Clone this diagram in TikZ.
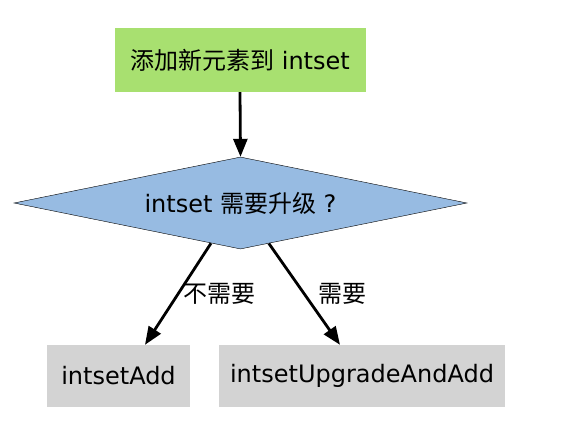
\documentclass[tikz,border=0pt]{standalone}
\usepackage{fontspec}
\setmainfont{DejaVu Sans}
\newfontfamily\cjk{Noto Sans CJK SC}
\usepackage{xcolor}
\usepackage{tikz}
\usetikzlibrary{positioning,shapes.geometric,arrows.meta,calc}

\definecolor{stepgreen}{RGB}{168,224,112}
\definecolor{testblue}{RGB}{151,187,226}
\definecolor{funcgray}{RGB}{211,211,211}

\begin{document}
\begin{tikzpicture}[
    x=1pt, y=-1pt,
    every node/.style={font=\fontsize{24}{28}\selectfont},
    box/.style={rectangle, inner sep=0pt, align=center},            % Style for the boxes
    test/.style={diamond, draw, thin, fill=testblue, inner sep=0pt,
                 minimum width=453pt, minimum height=92pt, aspect=4.92},  % Style for the test
    arr/.style={line width=2.8pt, -{Triangle[length=18pt,width=14pt]}}   % Style for the arrows
    ]

    \useasboundingbox (0,0) rectangle (576,421);

    % Start box and the test
    \node[box, fill=stepgreen, minimum width=251pt, minimum height=64pt] (start) at (240,60) {{\cjk 添加新元素到} intset};
    \node[test] (upgrade) at (240.5,203) {intset {\cjk 需要升级} ?};

    % The two functions
    \node[box, fill=funcgray, minimum width=143pt, minimum height=62pt] (add) at (118.5,376) {intsetAdd};
    \node[box, fill=funcgray, minimum width=286pt, minimum height=62pt] (upgadd) at (362,376) {intsetUpgradeAndAdd};

    % Arrows
    \draw[arr] (start.south) -- (upgrade.north);
    \draw[arr] ($(upgrade.south)!0.13!(upgrade.west)$) -- ([xshift=26.5pt]add.north)
        node[pos=0.5, right=1pt, font=\fontsize{24}{28}\cjk] (nolbl) {不需要};
    \draw[arr] ($(upgrade.south)!0.125!(upgrade.east)$) -- ([xshift=-22pt]upgadd.north)
        node[pos=0.5, right=9pt, font=\fontsize{24}{28}\cjk] (yeslbl) {需要};

\end{tikzpicture}
\end{document}
